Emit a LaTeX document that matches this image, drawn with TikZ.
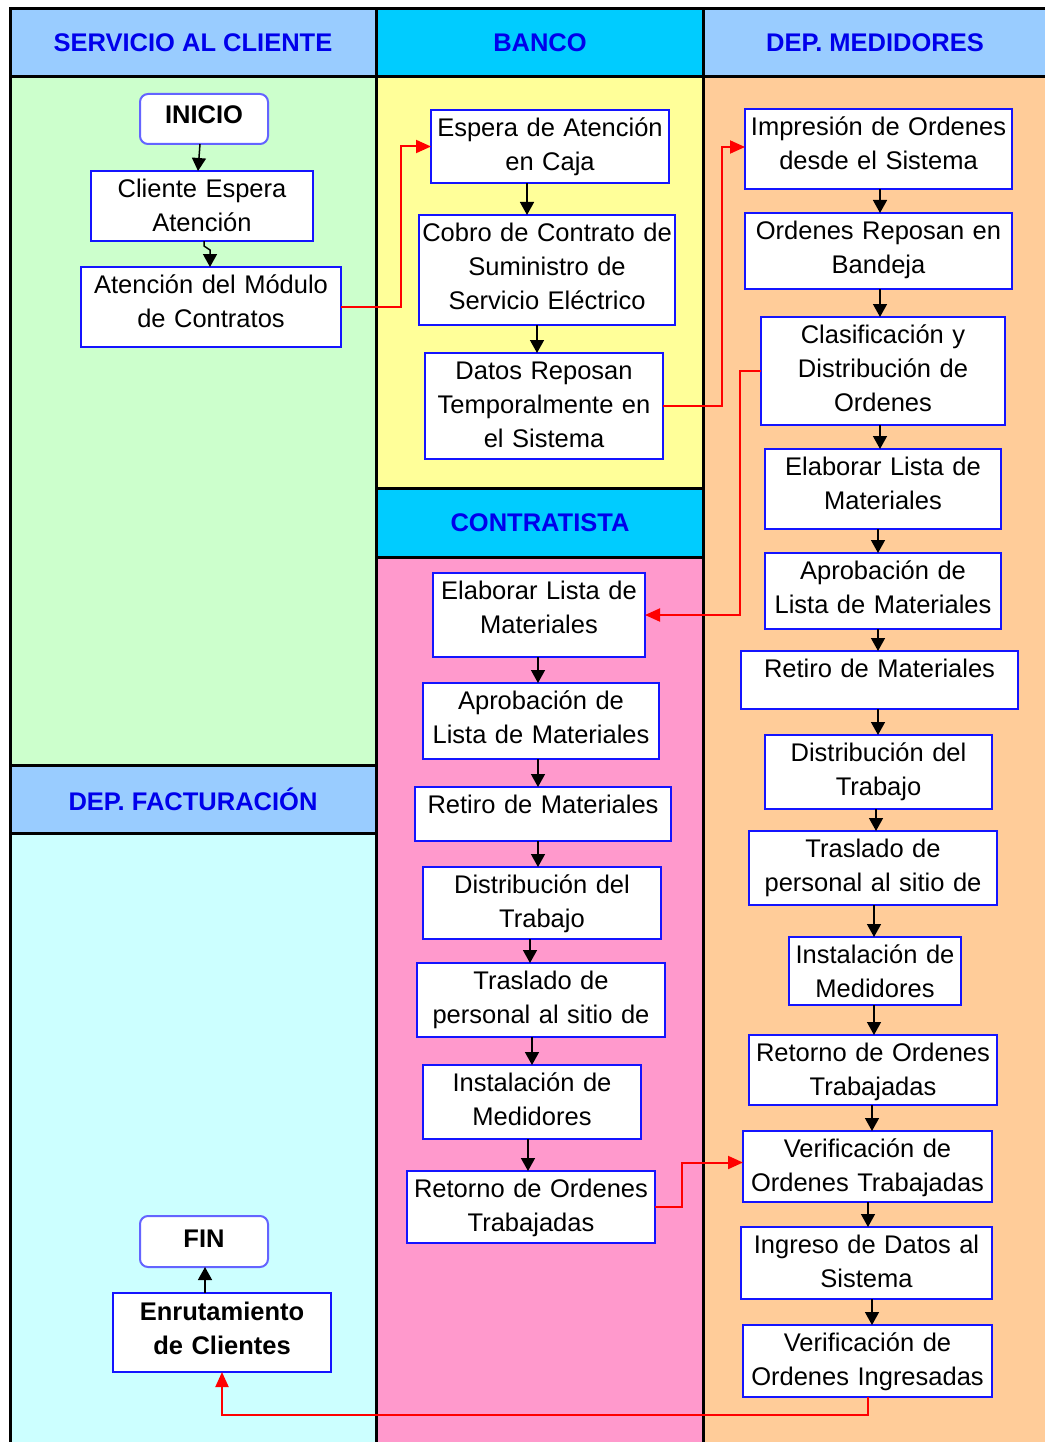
\documentclass[tikz,border=0pt]{standalone}
\usepackage{fontspec}
\setmainfont{Liberation Sans}
\usetikzlibrary{arrows.meta,calc}

\definecolor{hdrlight}{HTML}{99CCFF}
\definecolor{hdrdark}{HTML}{00CCFF}
\definecolor{lanegreen}{HTML}{CCFFCC}
\definecolor{laneyellow}{HTML}{FFFF99}
\definecolor{laneorange}{HTML}{FFCC99}
\definecolor{lanepink}{HTML}{FF99CC}
\definecolor{lanecyan}{HTML}{CCFFFF}
\definecolor{hdrblue}{RGB}{0,0,235}
\definecolor{boxblue}{RGB}{20,20,255}
\definecolor{termblue}{RGB}{100,100,255}
\definecolor{linkred}{RGB}{255,0,0}

\tikzset{
  lane/.style={line width=3pt, draw=black},
  hdr/.style={font=\fontsize{25.5}{30}\selectfont\bfseries, text=hdrblue, inner sep=0pt},
  stepbox/.style={rectangle, draw=boxblue, line width=2pt, fill=white, inner sep=0pt, outer sep=0pt},
  termbox/.style={stepbox, draw=termblue, rounded corners=8pt},
  boxtext/.style={font=\fontsize{25.5}{34}\selectfont, align=center, inner sep=0pt, anchor=base, text=black},
  flow/.style={draw=black, line width=1.5pt, -{Triangle[length=13pt,width=14pt]}},
  redflow/.style={draw=linkred, line width=2pt, -{Triangle[length=15pt,width=13pt]}},
}

% #1 style, #2 name, #3..#6 corners (x1,y1,x2,y2), #7 baseline drop of first line, #8 text
\newcommand\flowbox[8]{%
  \node[#1, minimum width={(#5)-(#3)}, minimum height={(#6)-(#4)}, anchor=north west] (#2) at (#3,#4) {};
  \node[boxtext, text width={(#5)-(#3)+20}] at ([yshift=-#7pt]#2.north) {#8};
}
% vertical step arrow at a given x
\newcommand\vflow[3]{\draw[flow] (#1.south -| #3,0) -- (#2.north -| #3,0);}

\begin{document}
\begin{tikzpicture}[x=1pt,y=-1pt]
\useasboundingbox (0,0) rectangle (1045,1442);
\fill[white] (0,0) rectangle (1045,1442);

% lane fills
\fill[hdrlight] (10,9) rectangle (376,77);
\fill[hdrdark] (376,9) rectangle (703,77);
\fill[hdrlight] (703,9) rectangle (1045,77);
\fill[lanegreen] (10,77) rectangle (376,765);
\fill[hdrlight] (10,765) rectangle (376,833);
\fill[lanecyan] (10,833) rectangle (376,1442);
\fill[laneyellow] (376,77) rectangle (703,488);
\fill[hdrdark] (376,488) rectangle (703,557);
\fill[lanepink] (376,557) rectangle (703,1442);
\fill[laneorange] (703,77) rectangle (1045,1442);

% lane borders
\draw[lane] (10,1442) -- (10,9) -- (1045,9);
\draw[lane] (376,9) -- (376,1442);
\draw[lane] (703,9) -- (703,1442);
\draw[lane] (10,77) -- (1045,77);
\draw[lane] (10,765) -- (376,765);
\draw[lane] (10,833) -- (376,833);
\draw[lane] (376,488) -- (703,488);
\draw[lane] (376,557) -- (703,557);

% lane headers
\node[hdr] (hcliente) at (193,43) {SERVICIO AL CLIENTE};
\node[hdr] (hbanco) at (540,43) {BANCO};
\node[hdr] (hmedid) at (875,43) {DEP. MEDIDORES};
\node[hdr] (hcontr) at (540,523) {CONTRATISTA};
\node[hdr] (hfact) at (193,799) {DEP. FACTURACIÓN};

% servicio al cliente / facturación
\flowbox{termbox}{inicio}{140}{94}{268}{144}{30}{\bfseries INICIO}
\flowbox{stepbox}{cliente}{91}{171}{313}{241}{26.5}{Cliente Espera\\Atención}
\flowbox{stepbox}{atencion}{81}{267}{341}{347}{26.5}{Atención del Módulo\\de Contratos}
\flowbox{termbox}{fin}{140}{1216}{268}{1267}{31}{\bfseries FIN}
\flowbox{stepbox}{enrut}{113}{1293}{331}{1372}{27}{\bfseries Enrutamiento\\de Clientes}

% banco / contratista
\flowbox{stepbox}{espera}{431}{110}{669}{183}{26.5}{Espera de Atención\\en Caja}
\flowbox{stepbox}{cobro}{419}{215}{675}{325}{26.5}{Cobro de Contrato de\\Suministro de\\Servicio Eléctrico}
\flowbox{stepbox}{datos}{425}{353}{663}{459}{26.5}{Datos Reposan\\Temporalmente en\\el Sistema}
\flowbox{stepbox}{elabB}{433}{573}{645}{657}{26.5}{Elaborar Lista de\\Materiales}
\flowbox{stepbox}{aprobB}{423}{683}{659}{759}{26.5}{Aprobación de\\Lista de Materiales}
\flowbox{stepbox}{retiroB}{415}{787}{671}{841}{26.5}{Retiro de Materiales}
\flowbox{stepbox}{distB}{423}{867}{661}{939}{26.5}{Distribución del\\Trabajo}
\flowbox{stepbox}{trasB}{417}{963}{665}{1037}{26.5}{Traslado de\\personal al sitio de}
\flowbox{stepbox}{instB}{423}{1065}{641}{1139}{26.5}{Instalación de\\Medidores}
\flowbox{stepbox}{retB}{407}{1171}{655}{1243}{26.5}{Retorno de Ordenes\\Trabajadas}

% medidores
\flowbox{stepbox}{impr}{745}{109}{1012}{189}{26.5}{Impresión de Ordenes\\desde el Sistema}
\flowbox{stepbox}{orden}{745}{213}{1012}{289}{26.5}{Ordenes Reposan en\\Bandeja}
\flowbox{stepbox}{clasif}{761}{317}{1005}{425}{26.5}{Clasificación y\\Distribución de\\Ordenes}
\flowbox{stepbox}{elabM}{765}{449}{1001}{529}{26.5}{Elaborar Lista de\\Materiales}
\flowbox{stepbox}{aprobM}{765}{553}{1001}{629}{26.5}{Aprobación de\\Lista de Materiales}
\flowbox{stepbox}{retiroM}{741}{651}{1018}{709}{26.5}{Retiro de Materiales}
\flowbox{stepbox}{distM}{765}{735}{992}{809}{26.5}{Distribución del\\Trabajo}
\flowbox{stepbox}{trasM}{749}{831}{997}{905}{26.5}{Traslado de\\personal al sitio de}
\flowbox{stepbox}{instM}{789}{937}{961}{1005}{26.5}{Instalación de\\Medidores}
\flowbox{stepbox}{retM}{749}{1035}{997}{1105}{26.5}{Retorno de Ordenes\\Trabajadas}
\flowbox{stepbox}{verT}{743}{1131}{992}{1202}{26.5}{Verificación de\\Ordenes Trabajadas}
\flowbox{stepbox}{ingr}{741}{1227}{992}{1299}{26.5}{Ingreso de Datos al\\Sistema}
\flowbox{stepbox}{verI}{743}{1325}{992}{1397}{26.5}{Verificación de\\Ordenes Ingresadas}

% step arrows
\draw[flow] (inicio.south -| 200,0) -- (cliente.north -| 198,0);
\draw[flow] (cliente.south -| 204,0) -- ++(0,5) -- ++(6,4) -- (atencion.north -| 210,0);
\draw[flow] (enrut.north -| 205,0) -- (fin.south -| 205,0);

\vflow{espera}{cobro}{527}
\vflow{cobro}{datos}{537}
\vflow{elabB}{aprobB}{538}
\vflow{aprobB}{retiroB}{538}
\vflow{retiroB}{distB}{538}
\vflow{distB}{trasB}{530}
\vflow{trasB}{instB}{532}
\vflow{instB}{retB}{528}

\vflow{impr}{orden}{880}
\vflow{orden}{clasif}{880}
\vflow{clasif}{elabM}{880}
\vflow{elabM}{aprobM}{878}
\vflow{aprobM}{retiroM}{878}
\vflow{retiroM}{distM}{878}
\vflow{distM}{trasM}{876}
\vflow{trasM}{instM}{874}
\vflow{instM}{retM}{874}
\vflow{retM}{verT}{872}
\vflow{verT}{ingr}{868}
\vflow{ingr}{verI}{872}

% hand-overs between lanes
\draw[redflow] (atencion.east) -- ++(60,0) |- (espera.west);
\draw[redflow] (datos.east) -- ++(59,0) |- ([yshift=2pt]impr.west);
\draw[redflow] (clasif.west) -- ++(-21,0) |- (elabB.east);
\draw[redflow] (retB.east) -- ++(27,0) |- ([yshift=4pt]verT.west);
\draw[redflow] (verI.south -| 868,0) -- ++(0,18) -| (enrut.south -| 222,0);
\end{tikzpicture}
\end{document}
